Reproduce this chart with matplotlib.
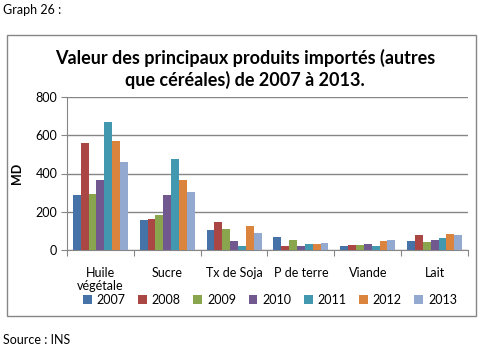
import numpy as np
import matplotlib
matplotlib.use("Agg")
import matplotlib.pyplot as plt
from matplotlib.patches import Rectangle

plt.rcParams['font.family'] = ['Lato', 'DejaVu Sans']

# data (MD)
categories = ["Huile\nvégétale", "Sucre", "Tx de Soja", "P de terre", "Viande", "Lait"]
years = ["2007", "2008", "2009", "2010", "2011", "2012", "2013"]
v2007 = [289, 159, 106, 69, 21, 48]
v2008 = [561, 164, 148, 21, 27, 80]
v2009 = [295, 185, 112, 53, 27, 42]
v2010 = [368, 289, 49, 21, 32, 53]
v2011 = [671, 478, 23, 32, 21, 64]
v2012 = [572, 368, 127, 32, 48, 85]
v2013 = [462, 305, 91, 37, 53, 80]
series = [v2007, v2008, v2009, v2010, v2011, v2012, v2013]
colors = ["#4572A7", "#AA4643", "#89A54E", "#71588F", "#4198AF", "#DB843D", "#93A9CF"]

fig = plt.figure(figsize=(4.89, 3.5), dpi=100)

# outer chart frame
fig.patches.append(Rectangle((7 / 489, 1 - 316 / 350), 469 / 489, 281 / 350,
                             transform=fig.transFigure, fill=False,
                             edgecolor="#868686", linewidth=1.0))

ax = fig.add_axes([67 / 489, 1 - 250 / 350, 401 / 489, 153 / 350])

n = len(series)
bw = 1 / (n + 1.5)
x = np.arange(len(categories))
for i, vals in enumerate(series):
    ax.bar(x - 0.5 + (0.75 + i + 0.5) * bw, vals, width=bw, color=colors[i],
           label=years[i], zorder=3)

ax.set_xlim(-0.5, len(categories) - 0.5)
ax.set_ylim(0, 800)
ax.set_yticks(range(0, 801, 200))
ax.yaxis.grid(True, color="#868686", linewidth=1.0, zorder=0)
for s in ["top", "right"]:
    ax.spines[s].set_visible(False)
for s in ["left", "bottom"]:
    ax.spines[s].set_color("#868686")
ax.set_xticks(np.arange(-0.5, len(categories), 1.0))
ax.set_xticklabels([])
ax.set_xticks(x, minor=True)
ax.set_xticklabels(categories, minor=True, fontsize=9, va="top", linespacing=1.1)
ax.tick_params(axis="x", which="minor", length=0, pad=12)
ax.tick_params(axis="x", which="major", length=4, color="#868686")
ax.tick_params(axis="y", length=4, color="#868686", labelsize=9, pad=3)
ax.set_ylabel("MD", fontsize=9, fontweight="bold", labelpad=9)

fig.text(245 / 489, 1 - 69 / 350,
         "Valeur des principaux produits importés (autres\nque céréales) de 2007 à 2013.",
         fontsize=13, fontweight="bold", ha="center", va="center", linespacing=1.3)

fig.legend(loc="center", bbox_to_anchor=(270 / 489, 1 - 300 / 350), ncol=7, frameon=False,
           fontsize=9, handlelength=0.7, handleheight=0.7, handletextpad=0.4,
           columnspacing=1.0, borderaxespad=0)

fig.text(3 / 489, 1 - 10 / 350, "Graph 26 :", fontsize=9, va="center")
fig.text(3 / 489, 1 - 340 / 350, "Source : INS", fontsize=9, va="center")

fig.savefig("out.png", dpi=100)
